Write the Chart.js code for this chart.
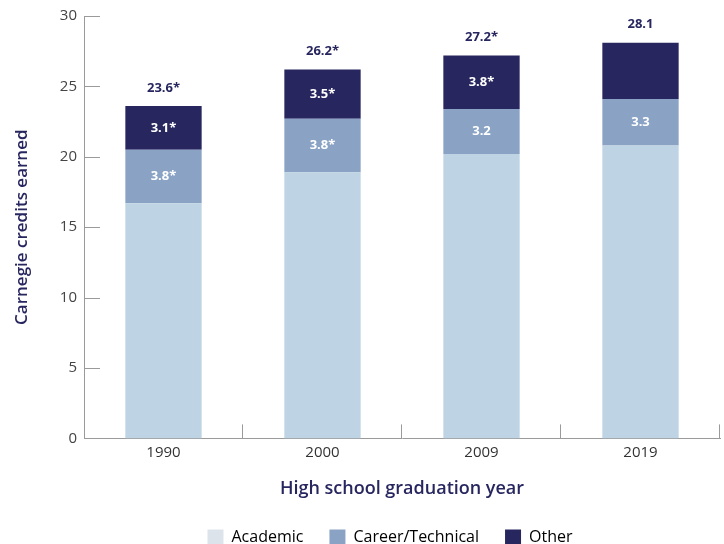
<!DOCTYPE html>
<html>
<head>
<meta charset="utf-8">
<script src="https://cdn.jsdelivr.net/npm/chart.js@4.4.1/dist/chart.umd.min.js"></script>
<style>
  html, body { margin: 0; padding: 0; background: #fff; overflow: hidden; }
  .chart-box { width: 724px; height: 544px; position: relative; }
</style>
</head>
<body>
<div class="chart-box"><canvas id="myChart"></canvas></div>
<script>
const years = ["1990", "2000", "2009", "2019"];
const academic = [16.7, 18.9, 20.2, 20.8];
const career = [3.8, 3.8, 3.2, 3.3];
const other = [3.1, 3.5, 3.8, 4.0];
const careerLabels = ["3.8*", "3.8*", "3.2", "3.3"];
const otherLabels = ["3.1*", "3.5*", "3.8*", ""];
const totalLabels = ["23.6*", "26.2*", "27.2*", "28.1"];
const yTicks = [0, 5, 10, 15, 20, 25, 30];

const navy = "#27265f";
const axisGrey = "#9a9a9a";

// short tick marks pointing into the plot
const innerTicks = {
  id: "innerTicks",
  afterDraw(chart) {
    const c = chart.ctx;
    const area = chart.chartArea;
    const ys = chart.scales.y;
    const xs = chart.scales.x;
    c.save();
    c.strokeStyle = axisGrey;
    c.lineWidth = 1;
    yTicks.forEach(function (v) {
      if (v === 0) return;
      const y = Math.round(ys.getPixelForValue(v)) + 0.5;
      c.beginPath();
      c.moveTo(area.left, y);
      c.lineTo(area.left + 16, y);
      c.stroke();
    });
    const half = (xs.getPixelForValue(1) - xs.getPixelForValue(0)) / 2;
    years.forEach(function (_, i) {
      const x = Math.round(xs.getPixelForValue(i) + half) - 0.5;
      c.beginPath();
      c.moveTo(x, area.bottom);
      c.lineTo(x, area.bottom - 14);
      c.stroke();
    });
    c.restore();
  },
};

// legend sits a bit right of the canvas centre in the original
const legendShift = {
  id: "legendShift",
  afterLayout(chart) {
    const lg = chart.legend;
    lg.left += 28;
    lg.right += 28;
  },
};

// value labels in the segments and totals above the bars
const barLabels = {
  id: "barLabels",
  afterDatasetsDraw(chart) {
    const c = chart.ctx;
    c.save();
    c.textAlign = "center";
    c.textBaseline = "middle";
    c.font = "bold 13px 'Open Sans'";
    c.fillStyle = "#ffffff";
    const m1 = chart.getDatasetMeta(1).data;
    const m2 = chart.getDatasetMeta(2).data;
    years.forEach(function (_, i) {
      const b1 = m1[i], b2 = m2[i];
      if (careerLabels[i]) c.fillText(careerLabels[i], b1.x, (b1.y + b1.base) / 2);
      if (otherLabels[i]) c.fillText(otherLabels[i], b2.x, (b2.y + b2.base) / 2);
    });
    c.fillStyle = navy;
    years.forEach(function (_, i) {
      const b2 = m2[i];
      c.fillText(totalLabels[i], b2.x, b2.y - 18);
    });
    c.restore();
  },
};

const ctx = document.getElementById("myChart").getContext("2d");
const chart = new Chart(ctx, {
  type: "bar",
  data: {
    labels: years,
    datasets: [
      { label: "Academic", data: academic, backgroundColor: "#bed3e3", legendColor: "#dde3ea" },
      { label: "Career/Technical", data: career, backgroundColor: "#8aa3c5" },
      { label: "Other", data: other, backgroundColor: navy },
    ],
  },
  options: {
    responsive: true,
    maintainAspectRatio: false,
    animation: false,
    categoryPercentage: 1,
    barPercentage: 0.48,
    layout: { padding: { top: 8, right: 4, left: 4, bottom: -11 } },
    plugins: {
      tooltip: { enabled: false },
      legend: {
        position: "bottom",
        labels: {
          boxWidth: 16,
          boxHeight: 15,
          padding: 26,
          color: "#333",
          font: { family: "'Open Sans'", size: 16 },
          generateLabels: function (chart) {
            return chart.data.datasets.map(function (ds, i) {
              return {
                text: ds.label,
                fillStyle: ds.legendColor || ds.backgroundColor,
                strokeStyle: "rgba(0,0,0,0)",
                lineWidth: 0,
                datasetIndex: i,
              };
            });
          },
        },
      },
    },
    scales: {
      x: {
        stacked: true,
        grid: { display: false, drawTicks: false },
        border: { display: true, color: axisGrey },
        ticks: { color: "#333", font: { family: "'Open Sans'", size: 15 }, padding: 5 },
        title: {
          display: true,
          text: "High school graduation year",
          color: navy,
          font: { family: "'Open Sans'", size: 18, weight: "600" },
          padding: { top: 12, bottom: 3 },
        },
      },
      y: {
        stacked: true,
        min: 0,
        max: 30,
        afterBuildTicks: function (scale) {
          scale.ticks = yTicks.map(function (v) { return { value: v }; });
        },
        grid: { display: false, drawTicks: false },
        border: { display: true, color: axisGrey },
        ticks: { color: "#444", font: { family: "'Open Sans'", size: 15 }, padding: 7 },
        title: {
          display: true,
          text: "Carnegie credits earned",
          color: navy,
          font: { family: "'Open Sans'", size: 17, weight: "600" },
          padding: { top: 8, bottom: 10 },
        },
        afterFit: function (scale) { scale.width = 80; },
      },
    },
  },
  plugins: [innerTicks, legendShift, barLabels],
});
</script>
</body>
</html>
